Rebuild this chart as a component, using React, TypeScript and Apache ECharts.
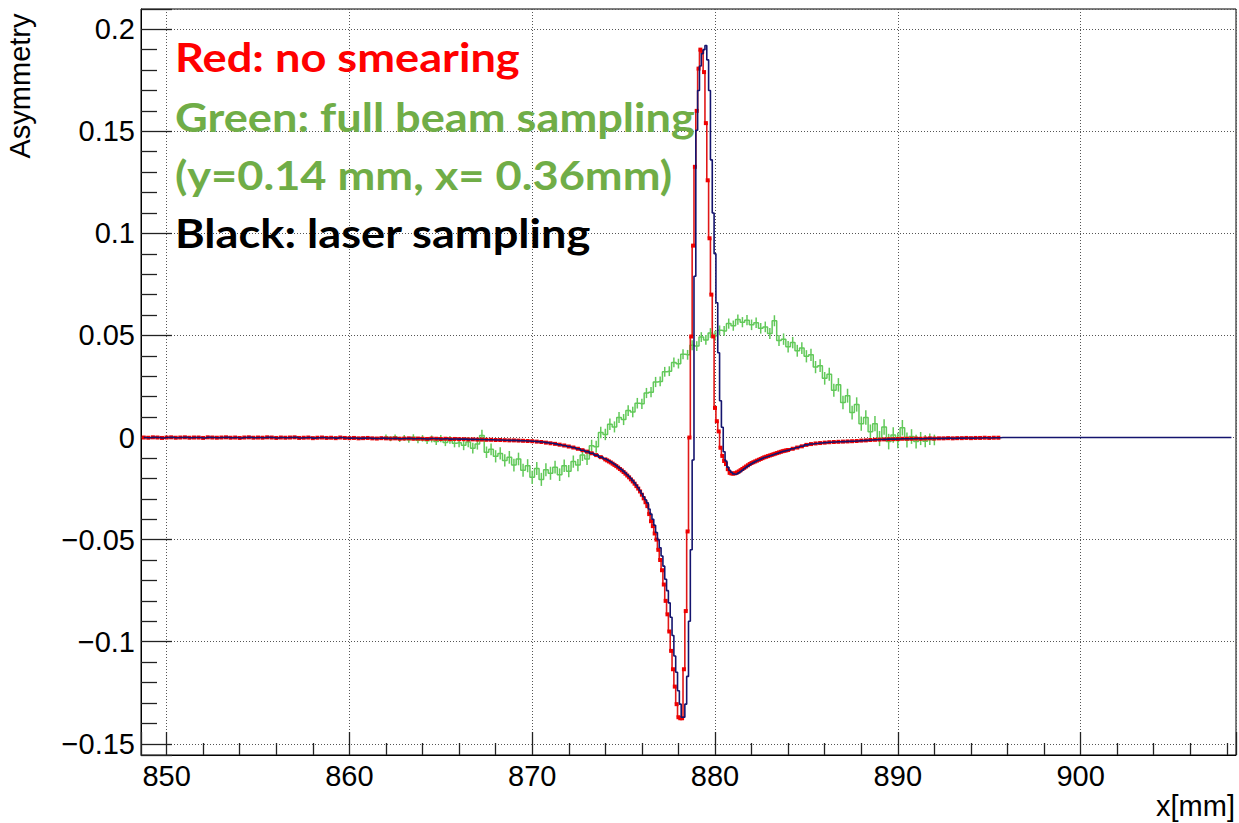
import React, { useEffect, useRef } from "react";
import * as echarts from "echarts";

// Axis ranges
const X_MIN = 848.6;
const X_MAX = 908.5;
const Y_MIN = -0.1555;
const Y_MAX = 0.2099;

// Legend lines
const legendLines = [
  { text: "Red: no smearing", color: "#ff0000" },
  { text: "Green: full beam sampling", color: "#70ad47" },
  { text: "(y=0.14 mm, x= 0.36mm)", color: "#70ad47" },
  { text: "Black: laser sampling", color: "#000000" },
];

// Shared tails of the red/black profiles (bins of 0.25 mm)
const tailLeftStart = 848.75;
const tailLeftWidth = 0.25;
const tailLeft = [
  0, -0.0001, 0.0001, 0, -0.0002, 0, 0.0001, -0.0001, 0, 0.0001,
  -0.0001, 0, 0, -0.0002, 0.0001, 0, -0.0001, 0, 0.0001, -0.0001,
  0, -0.0002, 0, 0.0001, -0.0001, 0, -0.0001, 0.0001, 0, -0.0002,
  0, -0.0001, 0, 0.0001, -0.0002, -0.0001, 0, -0.0003, -0.0001, 0,
  -0.0002, -0.0001, -0.0003, 0, -0.0002,
  -0.0003, -0.0002, -0.0004, -0.0003, -0.0002, -0.0004, -0.0005, -0.0003, -0.0004, -0.0005,
  -0.0004, -0.0006, -0.0005, -0.0004, -0.0006, -0.0005, -0.0006, -0.0007, -0.0005, -0.0006,
  -0.0007, -0.0006, -0.0008, -0.0007,
  -0.0008, -0.0008, -0.0009, -0.0009, -0.001, -0.001, -0.0011, -0.0011, -0.0012, -0.0012,
  -0.0013, -0.0014, -0.0014, -0.0015, -0.0016, -0.0017,
  -0.0018, -0.002, -0.0022, -0.0025, -0.0028, -0.0031, -0.0035, -0.0039,
  -0.0044, -0.0049, -0.0055, -0.0062, -0.0069, -0.0077, -0.0086, -0.0096,
];

const tailRightStart = 884.0;
const tailRightWidth = 0.25;
const tailRight = [
  -0.0061, -0.0055, -0.0049, -0.0043, -0.0036, -0.0032, -0.0029, -0.0027, -0.0025, -0.0023,
  -0.0022, -0.0021, -0.002, -0.0019, -0.0018, -0.0017, -0.0015, -0.0014, -0.0012, -0.0011,
  -0.001, -0.0009, -0.0008, -0.0008, -0.0007, -0.0006, -0.0006, -0.0006, -0.0005, -0.0006,
  -0.0005, -0.0004, -0.0005, -0.0004, -0.0004, -0.0003, -0.0004, -0.0003, -0.0003, -0.0002,
  -0.0003, -0.0002, -0.0002, -0.0001, -0.0002, -0.0001, -0.0001,
];

// Core region (bins of 0.1 mm from 874.0 to 883.9)
const coreStart = 874.0;
const coreWidth = 0.1;
const redCore = [
  -0.0107, -0.0112, -0.0117, -0.0122, -0.0128, -0.0134, -0.014, -0.0147, -0.0154, -0.0161,
  -0.0169, -0.0177, -0.0186, -0.0195, -0.0205, -0.0215, -0.0226, -0.0238, -0.025, -0.0264,
  -0.028, -0.0298, -0.0317, -0.0336, -0.0375, -0.041, -0.0434, -0.047, -0.05, -0.055,
  -0.06, -0.065, -0.072, -0.08, -0.0866, -0.095, -0.1045, -0.1135, -0.122, -0.1306,
  -0.137, -0.1375, -0.1375, -0.1135, -0.085, -0.046, 0.0, 0.0495, 0.094, 0.1326,
  0.16, 0.1807, 0.19, 0.189, 0.179, 0.154, 0.126, 0.0976, 0.07, 0.0495,
  0.0145, 0.008, 0.003, -0.005, -0.009, -0.0115, -0.013, -0.0155, -0.0173, -0.0176,
  -0.0177, -0.0175, -0.0171, -0.0166, -0.016, -0.0154, -0.0148, -0.0142, -0.0136, -0.013,
  -0.0125, -0.0121, -0.0117, -0.0113, -0.0109, -0.0105, -0.0101, -0.0097, -0.0094, -0.0091,
  -0.0088, -0.0085, -0.0082, -0.0079, -0.0076, -0.0073, -0.007, -0.0067, -0.0065, -0.0063,
];
const navyCore = [
  -0.0104, -0.0109, -0.0114, -0.0119, -0.0125, -0.0131, -0.0137, -0.0144, -0.0151, -0.0158,
  -0.0166, -0.0174, -0.0182, -0.0191, -0.0201, -0.0211, -0.0222, -0.0234, -0.0246, -0.026,
  -0.0275, -0.029, -0.0305, -0.032, -0.035, -0.0375, -0.04, -0.043, -0.0465, -0.05,
  -0.054, -0.058, -0.063, -0.0694, -0.075, -0.081, -0.088, -0.097, -0.107, -0.115,
  -0.124, -0.1306, -0.137, -0.137, -0.1306, -0.117, -0.09, -0.055, -0.011, 0.079,
  0.1505, 0.17, 0.182, 0.188, 0.19, 0.192, 0.185, 0.17, 0.136, 0.11,
  0.09, 0.066, 0.0415, 0.018, 0.005, -0.007, -0.0115, -0.0145, -0.016, -0.017,
  -0.0178, -0.018, -0.0178, -0.0173, -0.0167, -0.016, -0.0153, -0.0146, -0.014, -0.0134,
  -0.0128, -0.0123, -0.0118, -0.0114, -0.011, -0.0106, -0.0102, -0.0098, -0.0095, -0.0092,
  -0.0089, -0.0086, -0.0083, -0.008, -0.0077, -0.0074, -0.0071, -0.0068, -0.0066, -0.0064,
];

// Black (laser sampling) histogram continues at zero to the right edge
const navyTailStart = 895.75;
const navyTailWidth = 0.5;
const navyTail = [
  0, 0, 0, 0, 0, 0, 0, 0, 0, 0, 0, 0, 0,
  0, 0, 0, 0, 0, 0, 0, 0, 0, 0, 0, 0, 0,
];

// Green: full beam sampling (bins of 0.25 mm from 862.0) with error bars
const greenStart = 862.0;
const greenWidth = 0.25;
const greenValues = [
  0.0003, -0.0006, 0.0002, -0.0009,
  -0.0002, -0.0011, 0.0001, -0.0013,
  -0.0004, -0.0016, -0.0007, -0.0019,
  -0.0005, -0.0024, -0.0012, -0.0028,
  -0.0025, -0.0038, -0.0022, -0.0052,
  -0.0032, 0.001, -0.0072, -0.0058,
  -0.0092, -0.0078, -0.0112, -0.0097,
  -0.0135, -0.0105, -0.016, -0.0138,
  -0.0195, -0.0152, -0.0205, -0.0158,
  -0.0175, -0.0145, -0.0182, -0.0138,
  -0.0165, -0.0118, -0.0135, -0.0085,
  -0.0105, -0.004, -0.0045, 0.0025,
  0.0015, 0.0065, 0.0052, 0.0098,
  0.0088, 0.0132, 0.0125, 0.0168,
  0.0165, 0.0218, 0.0222, 0.0272,
  0.0275, 0.0322, 0.0325, 0.0368,
  0.0362, 0.0408, 0.0405, 0.0452,
  0.0448, 0.0492, 0.0478, 0.0512,
  0.0498, 0.0525, 0.0522, 0.0558,
  0.0548, 0.0578, 0.0565, 0.0575,
  0.0552, 0.0562, 0.0535, 0.0542,
  0.051, 0.0572, 0.0475, 0.0482,
  0.0445, 0.0465, 0.0425, 0.0438,
  0.0398, 0.0405, 0.0345, 0.0352,
  0.029, 0.031, 0.0232, 0.0258,
  0.0172, 0.0205, 0.0122, 0.0162,
  0.0068, 0.0098, 0.0028, 0.0068,
  -0.0005, 0.0052, -0.002, 0.0012,
  -0.0015, 0.0048, -0.0012, 0.0005,
  -0.002, -0.0005, -0.0018, -0.0008,
  -0.0012,
];
const greenErrors = [
  0.0012, 0.0012, 0.0013, 0.0013,
  0.0014, 0.0014, 0.0015, 0.0015,
  0.0016, 0.0016, 0.0017, 0.0017,
  0.0018, 0.0018, 0.0019, 0.002,
  0.0022, 0.0024, 0.0025, 0.0026,
  0.0027, 0.0028, 0.0028, 0.0029,
  0.003, 0.003, 0.003, 0.0031,
  0.0031, 0.0031, 0.0032, 0.0032,
  0.0032, 0.0032, 0.0032, 0.0032,
  0.0032, 0.0031, 0.0031, 0.0031,
  0.003, 0.003, 0.003, 0.003,
  0.0029, 0.0029, 0.0029, 0.0028,
  0.0028, 0.0028, 0.0027, 0.0027,
  0.0027, 0.0026, 0.0026, 0.0026,
  0.0025, 0.0025, 0.0025, 0.0025,
  0.0024, 0.0024, 0.0024, 0.0024,
  0.0024, 0.0024, 0.0024, 0.0024,
  0.0024, 0.0024, 0.0024, 0.0024,
  0.0024, 0.0024, 0.0024, 0.0025,
  0.0025, 0.0025, 0.0025, 0.0025,
  0.0026, 0.0026, 0.0026, 0.0026,
  0.0027, 0.0027, 0.0027, 0.0028,
  0.0028, 0.0028, 0.0029, 0.0029,
  0.003, 0.003, 0.003, 0.0031,
  0.0031, 0.0032, 0.0032, 0.0033,
  0.0033, 0.0034, 0.0034, 0.0035,
  0.0035, 0.0036, 0.0036, 0.0037,
  0.0037, 0.0038, 0.0038, 0.0038,
  0.0038, 0.0038, 0.0037, 0.0036,
  0.0034, 0.0032, 0.003, 0.0028,
  0.0026,
];

function hist(start: number, width: number, values: number[]): number[][] {
  return values.map((v, i) => [Math.round((start + i * width) * 1000) / 1000, v]);
}

const redData = [
  ...hist(tailLeftStart, tailLeftWidth, tailLeft),
  ...hist(coreStart, coreWidth, redCore),
  ...hist(tailRightStart, tailRightWidth, tailRight),
];
const navyData = [
  ...hist(tailLeftStart, tailLeftWidth, tailLeft),
  ...hist(coreStart, coreWidth, navyCore),
  ...hist(tailRightStart, tailRightWidth, tailRight),
  ...hist(navyTailStart, navyTailWidth, navyTail),
];
const greenData = hist(greenStart, greenWidth, greenValues);
const greenErrData = greenData.map((d, i) => [d[0], d[1], greenErrors[i]]);

const W = 1239;
const H = 823;
const GRID = { left: 141, right: 3, top: 9, bottom: 68 };
const TICK_FONT = "'Liberation Sans', Arial, Helvetica, sans-serif";
const LEGEND_FONT = "Lato, 'Open Sans', sans-serif";
const GREEN = "#62c95a";

function fmtY(v: number): string {
  const r = Math.round(v * 1000) / 1000;
  if (r === 0) return "0";
  return (r < 0 ? "\u2212" : "") + String(Math.abs(r));
}

export default function App() {
  const ref = useRef<HTMLDivElement>(null);
  useEffect(() => {
    if (!ref.current) return;
    const chart = echarts.init(ref.current, undefined, { renderer: "svg" });
    const legendY = [57, 117, 175, 233];
    chart.setOption({
      animation: false,
      backgroundColor: "#ffffff",
      grid: {
        ...GRID,
        show: true,
        borderColor: "#000",
        borderWidth: 1,
        backgroundColor: "transparent",
        containLabel: false,
      },
      xAxis: {
        type: "value",
        min: X_MIN,
        max: X_MAX,
        splitNumber: 6,
        axisLine: { show: true, onZero: false, lineStyle: { color: "#000", width: 1 } },
        axisTick: { show: true, inside: true, length: 23, lineStyle: { color: "#222", width: 1.3 } },
        minorTick: { show: true, splitNumber: 5, length: 12, lineStyle: { color: "#222", width: 1.3 } },
        splitLine: { show: true, lineStyle: { color: "#555", width: 1, type: [1, 2] } },
        axisLabel: {
          show: true,
          showMinLabel: false,
          showMaxLabel: false,
          margin: 6,
          color: "#000",
          fontSize: 29,
          fontFamily: TICK_FONT,
        },
      },
      yAxis: {
        type: "value",
        min: Y_MIN,
        max: Y_MAX,
        splitNumber: 7,
        axisLine: { show: true, onZero: false, lineStyle: { color: "#000", width: 1 } },
        axisTick: { show: true, inside: true, length: 31, lineStyle: { color: "#222", width: 1.3 } },
        minorTick: { show: true, splitNumber: 5, length: 16, lineStyle: { color: "#222", width: 1.3 } },
        splitLine: { show: true, lineStyle: { color: "#555", width: 1, type: [1, 2] } },
        axisLabel: {
          show: true,
          showMinLabel: false,
          showMaxLabel: false,
          margin: 6,
          color: "#000",
          fontSize: 29,
          fontFamily: TICK_FONT,
          formatter: fmtY,
        },
      },
      series: [
        {
          name: "full beam sampling",
          type: "line",
          step: "middle",
          data: greenData,
          symbol: "none",
          lineStyle: { color: GREEN, width: 1.5 },
          z: 2,
        },
        {
          name: "full beam sampling errors",
          type: "custom",
          data: greenErrData,
          encode: { x: 0, y: 1 },
          silent: true,
          z: 2,
          renderItem: (_params: any, api: any) => {
            const x = api.value(0);
            const y = api.value(1);
            const e = api.value(2);
            const p1 = api.coord([x, y - e]);
            const p2 = api.coord([x, y + e]);
            return {
              type: "line",
              shape: { x1: p1[0], y1: p1[1], x2: p2[0], y2: p2[1] },
              style: { stroke: GREEN, lineWidth: 1.5 },
            };
          },
        },
        {
          name: "no smearing",
          type: "line",
          step: "middle",
          data: redData,
          symbol: "rect",
          symbolSize: 4,
          showSymbol: true,
          showAllSymbol: true,
          itemStyle: { color: "#f00000" },
          lineStyle: { color: "#e01818", width: 1.6 },
          z: 3,
        },
        {
          name: "laser sampling",
          type: "line",
          step: "middle",
          data: navyData,
          symbol: "none",
          lineStyle: { color: "#14146e", width: 1.6 },
          z: 4,
        },
      ],
      graphic: [
        {
          type: "text",
          x: 20,
          y: 86,
          rotation: Math.PI / 2,
          style: {
            text: "Asymmetry",
            fill: "#000",
            font: `29px ${TICK_FONT}`,
            textAlign: "center",
            textVerticalAlign: "middle",
          },
        },
        {
          type: "text",
          x: 1235,
          y: 806,
          style: {
            text: "x[mm]",
            fill: "#000",
            font: `29px ${TICK_FONT}`,
            textAlign: "right",
            textVerticalAlign: "middle",
          },
        },
        ...legendLines.map((l, i) => ({
          type: "text",
          x: 175,
          y: legendY[i],
          scaleX: 1.13,
          z: 10,
          style: {
            text: l.text,
            fill: l.color,
            font: `bold 40px ${LEGEND_FONT}`,
            textAlign: "left",
            textVerticalAlign: "middle",
          },
        })),
      ],
    });
    return () => chart.dispose();
  }, []);
  return (
    <div
      ref={ref}
      style={{ position: "absolute", left: 0, top: 0, width: W, height: H, background: "#fff" }}
    />
  );
}
